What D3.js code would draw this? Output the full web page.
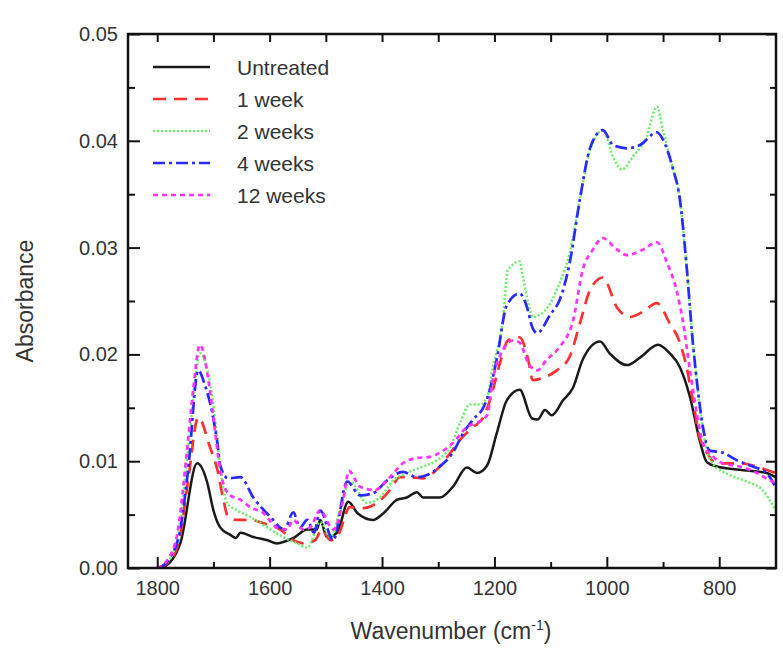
<!DOCTYPE html>
<html>
<head>
<meta charset="utf-8">
<script src="https://cdn.jsdelivr.net/npm/d3@7"></script>
<style>
  body { margin: 0; background: #fff; }
  text { font-family: "Liberation Sans", Arial, sans-serif; fill: #333; }
</style>
</head>
<body>
<div class="svg-wrapper"></div>
<script>
// wavenumber (cm-1), absorbance
const untreated = [[1800,0],[1789,0.0001],[1759,0.0023],[1729,0.0098],[1711,0.0080],[1700,0.0054],[1688,0.0038],[1670,0.0031],[1660,0.0028],[1652,0.0033],[1629,0.0029],[1604,0.0026],[1587,0.0023],[1558,0.0028],[1533,0.0036],[1516,0.0036],[1510,0.0045],[1498,0.0029],[1480,0.0033],[1460,0.0062],[1443,0.0051],[1416,0.0045],[1398,0.0051],[1373,0.0064],[1356,0.0066],[1338,0.0071],[1327,0.0066],[1297,0.0066],[1274,0.0076],[1249,0.0094],[1231,0.0089],[1213,0.0096],[1196,0.0126],[1178,0.0157],[1155,0.0167],[1133,0.0140],[1123,0.0139],[1110,0.0148],[1098,0.0143],[1078,0.0157],[1060,0.0169],[1043,0.0195],[1012,0.0212],[995,0.0201],[964,0.0190],[941,0.0197],[909,0.0209],[888,0.0201],[870,0.0188],[852,0.0160],[835,0.0120],[822,0.0099],[804,0.0095],[764,0.0092],[716,0.0089],[700,0.0085]];

const week1 = [[1800,0],[1777,0.0007],[1759,0.0031],[1745,0.0082],[1727,0.0141],[1706,0.0113],[1693,0.0092],[1683,0.0066],[1674,0.0048],[1658,0.0045],[1635,0.0045],[1612,0.0042],[1581,0.0036],[1558,0.0026],[1537,0.0023],[1519,0.0026],[1507,0.0036],[1492,0.0026],[1478,0.0031],[1457,0.0057],[1434,0.0056],[1409,0.0061],[1386,0.0073],[1368,0.0085],[1350,0.0085],[1327,0.0084],[1309,0.0089],[1284,0.0104],[1256,0.0123],[1238,0.0132],[1220,0.0141],[1208,0.0157],[1190,0.0192],[1176,0.0213],[1155,0.0216],[1140,0.0195],[1132,0.0176],[1114,0.0178],[1089,0.0185],[1066,0.0198],[1048,0.0229],[1030,0.0260],[1007,0.0272],[982,0.0244],[959,0.0235],[936,0.0240],[911,0.0248],[888,0.0229],[870,0.0211],[858,0.0188],[847,0.0157],[835,0.0123],[822,0.0108],[804,0.0098],[764,0.0098],[728,0.0094],[700,0.0089]];

const week2 = [[1800,0],[1780,0.0007],[1763,0.0031],[1747,0.0101],[1736,0.0157],[1724,0.0201],[1713,0.0190],[1702,0.0160],[1693,0.0120],[1684,0.0080],[1676,0.0061],[1658,0.0054],[1635,0.0048],[1604,0.0038],[1576,0.0029],[1551,0.0023],[1533,0.0019],[1510,0.0043],[1492,0.0029],[1475,0.0054],[1457,0.0081],[1427,0.0061],[1404,0.0066],[1380,0.0082],[1356,0.0089],[1327,0.0095],[1302,0.0101],[1279,0.0113],[1261,0.0136],[1244,0.0153],[1226,0.0153],[1213,0.0160],[1203,0.0188],[1185,0.0232],[1176,0.0279],[1155,0.0287],[1149,0.0272],[1140,0.0248],[1132,0.0235],[1107,0.0243],[1084,0.0267],[1066,0.0295],[1048,0.0345],[1030,0.0391],[1007,0.0410],[989,0.0385],[973,0.0373],[954,0.0385],[929,0.0404],[911,0.0432],[900,0.0410],[883,0.0375],[870,0.0345],[858,0.0282],[847,0.0213],[835,0.0151],[822,0.0110],[812,0.0098],[781,0.0087],[751,0.0081],[723,0.0073],[700,0.0054]];

const week4 = [[1795,0],[1777,0.0010],[1759,0.0036],[1745,0.0092],[1727,0.0185],[1715,0.0171],[1702,0.0145],[1693,0.0117],[1688,0.0096],[1674,0.0084],[1652,0.0085],[1629,0.0066],[1599,0.0048],[1574,0.0036],[1558,0.0052],[1546,0.0038],[1533,0.0045],[1521,0.0033],[1510,0.0054],[1487,0.0026],[1462,0.0081],[1439,0.0068],[1416,0.0070],[1391,0.0082],[1363,0.0090],[1338,0.0085],[1320,0.0087],[1297,0.0095],[1274,0.0108],[1256,0.0126],[1238,0.0139],[1220,0.0150],[1212,0.0160],[1196,0.0195],[1178,0.0246],[1155,0.0257],[1142,0.0244],[1133,0.0226],[1124,0.0220],[1101,0.0237],[1084,0.0251],[1066,0.0286],[1048,0.0345],[1030,0.0393],[1007,0.0410],[989,0.0396],[964,0.0393],[941,0.0396],[911,0.0408],[900,0.0401],[883,0.0375],[870,0.0345],[858,0.0282],[847,0.0211],[840,0.0176],[829,0.0132],[817,0.0110],[794,0.0108],[769,0.0101],[740,0.0095],[716,0.0089],[700,0.0076]];

const week12 = [[1800,0],[1780,0.0009],[1763,0.0036],[1747,0.0110],[1736,0.0167],[1724,0.0209],[1709,0.0176],[1700,0.0141],[1693,0.0110],[1684,0.0082],[1670,0.0068],[1652,0.0064],[1635,0.0057],[1613,0.0052],[1587,0.0038],[1569,0.0036],[1558,0.0045],[1540,0.0036],[1528,0.0038],[1510,0.0054],[1487,0.0036],[1469,0.0064],[1459,0.0091],[1439,0.0076],[1413,0.0073],[1386,0.0085],[1363,0.0098],[1338,0.0103],[1315,0.0104],[1297,0.0108],[1274,0.0117],[1249,0.0132],[1231,0.0136],[1213,0.0143],[1203,0.0176],[1185,0.0204],[1167,0.0213],[1155,0.0211],[1140,0.0192],[1124,0.0185],[1107,0.0195],[1084,0.0207],[1060,0.0232],[1043,0.0279],[1025,0.0298],[1007,0.0309],[986,0.0300],[964,0.0293],[936,0.0298],[911,0.0305],[893,0.0286],[876,0.0260],[865,0.0232],[852,0.0185],[840,0.0145],[829,0.0117],[812,0.0105],[794,0.0098],[764,0.0095],[733,0.0089],[710,0.0082],[700,0.0080]];

const seriesNames = ["Untreated", "1 week", "2 weeks", "4 weeks", "12 weeks"];
const seriesData = [untreated, week1, week2, week4, week12];
const xMajorTicks = [1800, 1600, 1400, 1200, 1000, 800];
const xMinorTicks = [1700, 1500, 1300, 1100, 900];
const yMajorTicks = [0, 0.01, 0.02, 0.03, 0.04, 0.05];
const yMinorTicks = [0.005, 0.015, 0.025, 0.035, 0.045];

const seriesStyle = [
  {color: "#1a1a1a", dash: null, w: 2.5},
  {color: "#ff3030", dash: "13,8", w: 2.7},
  {color: "#66ee66", dash: "2,2", w: 2.5},
  {color: "#2a2aff", dash: "12,4,3,4", w: 2.7},
  {color: "#ff33ff", dash: "5,4", w: 2.7}
];

const width = 783, height = 648;
const margin = {top: 34, right: 7, bottom: 80, left: 128};
const innerWidth = width - margin.left - margin.right;
const innerHeight = height - margin.top - margin.bottom;

const svg = d3.select(".svg-wrapper")
  .append("svg")
  .attr("width", width)
  .attr("height", height);

const xScale = d3.scaleLinear().domain([1852, 699]).range([0, innerWidth]);
const yScale = d3.scaleLinear().domain([0, 0.05]).range([innerHeight, 0]);

const g = svg.append("g")
  .attr("transform", `translate(${margin.left},${margin.top})`);

g.append("clipPath").attr("id", "plot-clip")
  .append("rect")
  .attr("width", innerWidth)
  .attr("height", innerHeight);

// lines
const lineGen = d3.line()
  .x(d => xScale(d[0]))
  .y(d => yScale(d[1]))
  .curve(d3.curveMonotoneX);

const lines = g.append("g").attr("clip-path", "url(#plot-clip)");
seriesData.forEach((data, i) => {
  const s = seriesStyle[i];
  lines.append("path")
    .attr("d", lineGen(data))
    .attr("fill", "none")
    .attr("stroke", s.color)
    .attr("stroke-width", s.w)
    .attr("stroke-dasharray", s.dash)
    .attr("stroke-linejoin", "round");
});

// axes, ticks inward on all four sides
const fmtY = d3.format(".2f");
const styleAxis = sel => {
  sel.selectAll(".domain").remove();
  sel.selectAll(".tick line").attr("stroke", "#111").attr("stroke-width", 2);
  sel.selectAll("text").style("font-size", "20px").attr("fill", "#333");
  sel.selectAll("text").filter(function(){ return this.textContent === ""; }).remove();
};

g.append("g").attr("transform", `translate(0,${innerHeight})`)
  .call(d3.axisBottom(xScale).tickValues(xMajorTicks).tickSize(-11).tickPadding(13).tickFormat(d3.format("d")))
  .call(styleAxis);
g.append("g").attr("transform", `translate(0,${innerHeight})`)
  .call(d3.axisBottom(xScale).tickValues(xMinorTicks).tickSize(-6).tickFormat(""))
  .call(styleAxis);
g.append("g")
  .call(d3.axisTop(xScale).tickValues(xMajorTicks.concat(xMinorTicks)).tickSize(-8).tickFormat(""))
  .call(styleAxis);

g.append("g")
  .call(d3.axisLeft(yScale).tickValues(yMajorTicks).tickSize(-12).tickPadding(10).tickFormat(fmtY))
  .call(styleAxis);
g.append("g")
  .call(d3.axisLeft(yScale).tickValues(yMinorTicks).tickSize(-7).tickFormat(""))
  .call(styleAxis);
g.append("g").attr("transform", `translate(${innerWidth},0)`)
  .call(d3.axisRight(yScale).tickValues(yMajorTicks).tickSize(-10).tickFormat(""))
  .call(styleAxis);
g.append("g").attr("transform", `translate(${innerWidth},0)`)
  .call(d3.axisRight(yScale).tickValues(yMinorTicks).tickSize(-6).tickFormat(""))
  .call(styleAxis);

// frame
g.append("rect")
  .attr("width", innerWidth)
  .attr("height", innerHeight)
  .attr("fill", "none")
  .attr("stroke", "#111")
  .attr("stroke-width", 2.5);

// axis titles
svg.append("text")
  .attr("transform", `translate(25,${margin.top + innerHeight / 2}) rotate(-90)`)
  .attr("text-anchor", "middle")
  .attr("dominant-baseline", "central")
  .style("font-size", "23px")
  .text("Absorbance");

const xTitle = svg.append("text")
  .attr("x", 451)
  .attr("y", 639)
  .attr("text-anchor", "middle")
  .style("font-size", "23px");
xTitle.append("tspan").text("Wavenumber (cm");
xTitle.append("tspan").attr("dy", -9).style("font-size", "14px").text("-1");
xTitle.append("tspan").attr("dy", 9).text(")");

// legend
const legend = svg.append("g");
seriesNames.forEach((name, i) => {
  const s = seriesStyle[i];
  const y = 67 + i * 32;
  legend.append("line")
    .attr("x1", 153).attr("x2", 210)
    .attr("y1", y).attr("y2", y)
    .attr("stroke", s.color)
    .attr("stroke-width", s.w)
    .attr("stroke-dasharray", s.dash);
  legend.append("text")
    .attr("x", 237)
    .attr("y", y)
    .attr("dominant-baseline", "central")
    .style("font-size", "21px")
    .text(name);
});
</script>
</body>
</html>
